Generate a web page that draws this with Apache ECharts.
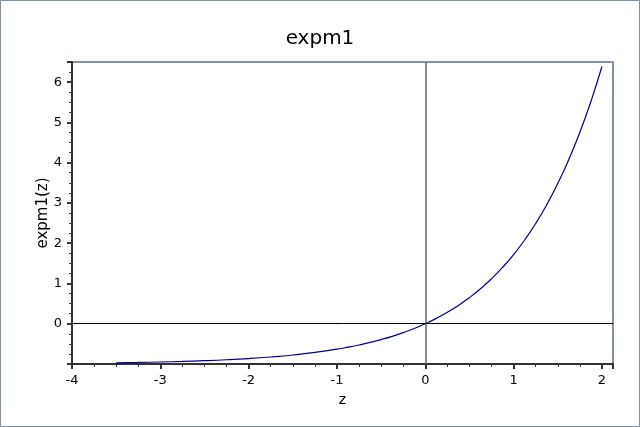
<!DOCTYPE html>
<html>
<head>
<meta charset="utf-8">
<script src="https://cdn.jsdelivr.net/npm/echarts@6/dist/echarts.min.js"></script>
<style>
html,body{margin:0;padding:0;background:#fff;}
#c{width:640px;height:427px;}
</style>
</head>
<body>
<div id="c"></div>
<script>
var zValues = [-3.5,-3.25,-3,-2.75,-2.5,-2.25,-2,-1.75,-1.5,-1.25,-1,-0.875,-0.75,-0.625,-0.5,-0.375,-0.25,-0.125,0,0.125,0.25,0.375,0.5,0.625,0.75,0.875,1,1.125,1.25,1.375,1.5,1.625,1.75,1.875,2];
var expm1Values = [-0.970,-0.961,-0.950,-0.936,-0.918,-0.895,-0.865,-0.826,-0.777,-0.713,-0.632,-0.583,-0.528,-0.465,-0.393,-0.313,-0.221,-0.118,0,0.133,0.284,0.455,0.649,0.868,1.117,1.399,1.718,2.080,2.490,2.955,3.482,4.078,4.755,5.520,6.389];
var xTicks = [-4,-3,-2,-1,0,1,2];
var yTicks = [0,1,2,3,4,5,6];

var chart = echarts.init(document.getElementById('c'), null, {renderer:'canvas'});
var pts = zValues.map(function(z,i){return [z, expm1Values[i]];});
var font = 'DejaVu Sans';
chart.setOption({
  animation:false,
  backgroundColor:'#fff',
  title:{text:'expm1', left:'center', top:24, textStyle:{fontFamily:font, fontSize:20, fontWeight:'normal', color:'#000'}},
  grid:{left:72, right:27, top:62, bottom:63, show:true, borderColor:'#8593a5', borderWidth:2, backgroundColor:'#fff'},
  graphic:[{type:'rect', shape:{x:0.5,y:0.5,width:639,height:426}, style:{fill:null, stroke:'#7f8fa4', lineWidth:1}, silent:true, z:100}],
  xAxis:{type:'value', min:-4, max:2.125, interval:1,
    name:'z', nameLocation:'middle', nameGap:29, nameMoveOverlap:false, nameTextStyle:{fontFamily:font, fontSize:14, color:'#000'},
    axisLine:{show:true, onZero:false, lineStyle:{color:'#333', width:2}},
    axisTick:{show:true, length:5, lineStyle:{color:'#333', width:2}},
    minorTick:{show:true, splitNumber:4, length:3, lineStyle:{color:'#333', width:1}},
    splitLine:{show:false},
    axisLabel:{fontFamily:font, fontSize:13, color:'#000', margin:10,
      formatter:function(v){return xTicks.indexOf(v)>=0 ? String(v) : '';}}
  },
  yAxis:{type:'value', min:-1, max:6.5, interval:1,
    name:'expm1(z)', nameLocation:'middle', nameGap:21, nameMoveOverlap:false, nameTextStyle:{fontFamily:font, fontSize:15, color:'#000'},
    axisLine:{show:true, onZero:false, lineStyle:{color:'#333', width:2}},
    axisTick:{show:true, length:5, lineStyle:{color:'#333', width:2}},
    minorTick:{show:true, splitNumber:4, length:3, lineStyle:{color:'#333', width:1}},
    splitLine:{show:false},
    axisLabel:{fontFamily:font, fontSize:13, color:'#000', margin:10,
      formatter:function(v){return yTicks.indexOf(v)>=0 ? String(v) : '';}}
  },
  series:[{
    type:'line', data:pts, showSymbol:false, smooth:true,
    lineStyle:{color:'#00008b', width:1.2},
    markLine:{silent:true, symbol:'none', label:{show:false},
      data:[
        {xAxis:0, lineStyle:{color:'#666', width:1.5, type:'solid'}},
        {yAxis:0, lineStyle:{color:'#000', width:1, type:'solid'}}
      ]}
  }]
});
</script>
</body>
</html>
